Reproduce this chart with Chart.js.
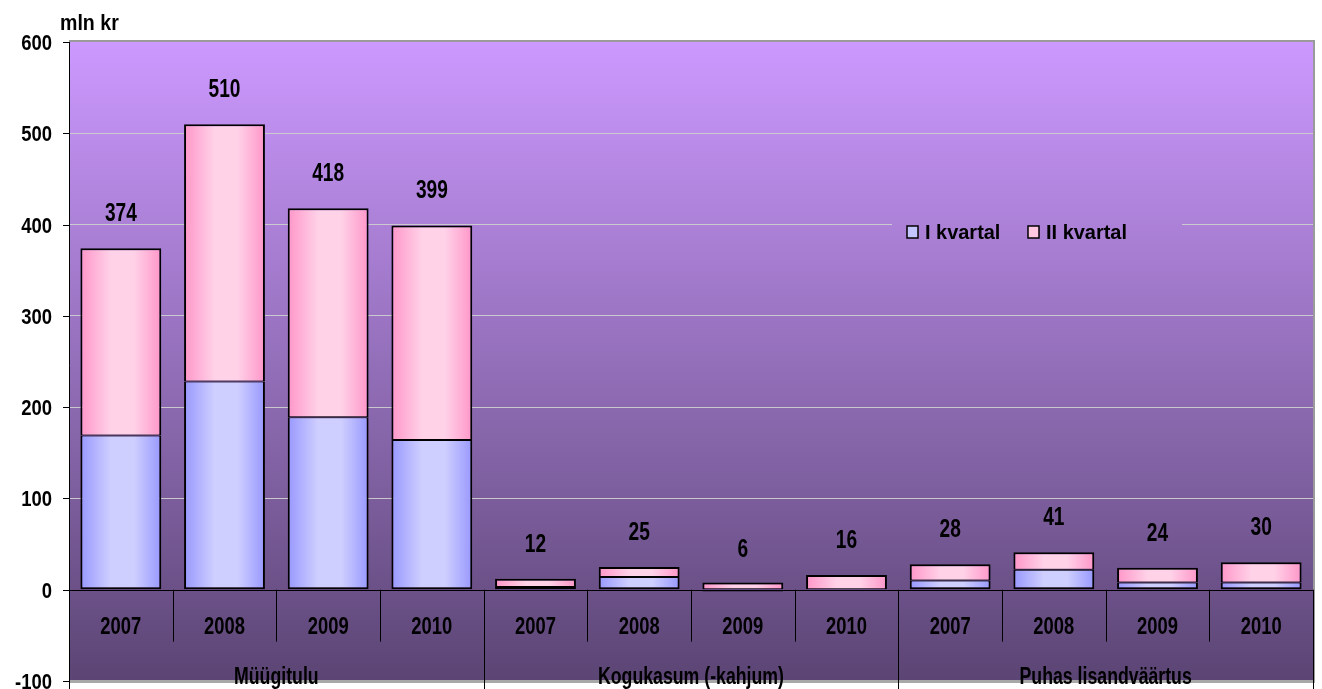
<!DOCTYPE html>
<html>
<head>
<meta charset="utf-8">
<script src="https://cdn.jsdelivr.net/npm/chart.js@4.4.1/dist/chart.umd.min.js"></script>
<style>
  html, body { margin: 0; padding: 0; background: #ffffff; }
  #wrap { width: 1322px; height: 689px; position: relative; }
</style>
</head>
<body>
<div id="wrap"><canvas id="c" width="1322" height="689"></canvas></div>
<script>
// ---- data ----
const categories = ['2007','2008','2009','2010','2007','2008','2009','2010','2007','2008','2009','2010'];
const groups = ['Müügitulu', 'Kogukasum (-kahjum)', 'Puhas lisandväärtus'];
const groupSize = 4;
const seriesNames = ['I kvartal', 'II kvartal'];
const quarter1 = [169, 228, 189, 164, 3, 14, -2, 0, 10, 22, 8, 8];
const quarter2 = [205, 282, 229, 235, 9, 11, 8, 16, 18, 19, 16, 22];
const totals = [374, 510, 418, 399, 12, 25, 6, 16, 28, 41, 24, 30];
const yTicks = [-100, 0, 100, 200, 300, 400, 500, 600];
const unitLabel = 'mln kr';

const FONT = '"Liberation Sans", Arial, sans-serif';
const BAR_PCT = 0.78;

function plotGradient(chart) {
  const a = chart.chartArea;
  const g = chart.ctx.createLinearGradient(0, a.top, 0, a.bottom);
  g.addColorStop(0, '#CC99FF');
  g.addColorStop(1, '#5B4574');
  return g;
}

function barFill(light, dark) {
  return (c) => {
    const ch = c.chart;
    const xs = ch.scales && ch.scales.x;
    if (c.dataIndex === undefined || !xs || !ch.chartArea) return light;
    const cx = xs.getPixelForValue(c.dataIndex);
    const w = ch.chartArea.width / categories.length * BAR_PCT;
    const g = ch.ctx.createLinearGradient(cx - w / 2, 0, cx + w / 2, 0);
    g.addColorStop(0, dark);
    g.addColorStop(0.38, light);
    g.addColorStop(0.66, light);
    g.addColorStop(1, dark);
    return g;
  };
}

function drawText(ctx, text, x, y, size, sx, align, baseline) {
  ctx.save();
  ctx.font = 'bold ' + size + 'px ' + FONT;
  ctx.fillStyle = '#000';
  ctx.textAlign = align || 'center';
  ctx.textBaseline = baseline || 'alphabetic';
  ctx.translate(x, y);
  ctx.scale(sx, 1);
  ctx.fillText(text, 0, 0);
  ctx.restore();
}

const backgroundPlugin = {
  id: 'bgPlot',
  beforeDraw(chart) {
    const ctx = chart.ctx, a = chart.chartArea;
    ctx.save();
    ctx.fillStyle = '#ffffff';
    ctx.fillRect(0, 0, chart.width, chart.height);
    ctx.fillStyle = plotGradient(chart);
    ctx.fillRect(a.left, a.top, a.right - a.left, a.bottom - a.top);
    ctx.fillStyle = '#9a9a9a';
    ctx.fillRect(a.left, a.top - 2, a.right - a.left + 2, 2);
    ctx.fillRect(a.right, a.top - 2, 2, a.bottom - a.top + 3);
    ctx.fillStyle = '#a8a8a8';
    ctx.fillRect(a.left, a.bottom - 1, a.right - a.left + 2, 3);
    ctx.restore();
  }
};

const overlayPlugin = {
  id: 'overlay',
  afterDraw(chart) {
    const ctx = chart.ctx, a = chart.chartArea;
    const xs = chart.scales.x, ys = chart.scales.y;
    const y0 = ys.getPixelForValue(0);
    const n = categories.length;
    const step = (a.right - a.left) / n;

    ctx.save();
    ctx.strokeStyle = '#000';
    ctx.lineWidth = 1;
    ctx.beginPath();
    ctx.moveTo(a.left, Math.round(y0) + 0.5);
    ctx.lineTo(a.right, Math.round(y0) + 0.5);
    ctx.stroke();
    ctx.beginPath();
    ctx.moveTo(Math.round(a.left) + 0.5, a.top);
    ctx.lineTo(Math.round(a.left) + 0.5, chart.height);
    ctx.stroke();
    yTicks.forEach(v => {
      const py = Math.round(ys.getPixelForValue(v)) + 0.5;
      ctx.beginPath();
      ctx.moveTo(a.left - 6, py);
      ctx.lineTo(a.left, py);
      ctx.stroke();
      drawText(ctx, String(v), a.left - 17, py + 7.5, 22, 0.84, 'right');
    });
    for (let i = 1; i <= n; i++) {
      const px = Math.round(a.left + i * step) + 0.5;
      const isGroup = (i % groupSize === 0);
      ctx.beginPath();
      ctx.moveTo(px, y0);
      ctx.lineTo(px, isGroup ? chart.height : y0 + 52);
      ctx.stroke();
    }
    ctx.restore();

    categories.forEach((c, i) => {
      drawText(ctx, c, xs.getPixelForValue(i), y0 + 44, 23, 0.8, 'center');
    });
    groups.forEach((g, gi) => {
      const cx = a.left + (gi * groupSize + groupSize / 2) * step;
      drawText(ctx, g, cx, a.bottom + 3, 23, 0.77, 'center');
    });
    totals.forEach((t, i) => {
      const py = ys.getPixelForValue(t) - 27;
      drawText(ctx, String(t), xs.getPixelForValue(i), py, 25.5, 0.75, 'center');
    });
    drawText(ctx, unitLabel, 60, 30, 22, 0.89, 'left');

    ctx.save();
    ctx.fillStyle = plotGradient(chart);
    ctx.fillRect(892, 214, 290, 36);
    const items = [
      { x: 907, text: seriesNames[0], fill: '#C4C4FF' },
      { x: 1028, text: seriesNames[1], fill: '#FFC8E0' }
    ];
    items.forEach(it => {
      ctx.fillStyle = it.fill;
      ctx.fillRect(it.x, 226, 11, 12);
      ctx.strokeStyle = '#000';
      ctx.lineWidth = 1.5;
      ctx.strokeRect(it.x, 226, 11, 12);
      drawText(ctx, it.text, it.x + 18, 238.5, 21, 0.95, 'left');
    });
    ctx.restore();
  }
};

const chart = new Chart(document.getElementById('c'), {
  type: 'bar',
  data: {
    labels: categories,
    datasets: [
      {
        label: seriesNames[0],
        data: quarter1,
        backgroundColor: barFill('#CFCFFF', '#9898FF'),
        borderColor: '#000',
        borderWidth: { top: 1, bottom: 2, left: 2, right: 2 },
        borderSkipped: false,
        stack: 's'
      },
      {
        label: seriesNames[1],
        data: quarter2,
        backgroundColor: barFill('#FFD2E8', '#FF96C8'),
        borderColor: '#000',
        borderWidth: { top: 2, bottom: 1, left: 2, right: 2 },
        borderSkipped: false,
        stack: 's'
      }
    ]
  },
  options: {
    responsive: false,
    animation: false,
    layout: { padding: { left: 69, right: 9, top: 42, bottom: 8 } },
    datasets: { bar: { barPercentage: BAR_PCT, categoryPercentage: 1.0 } },
    plugins: { legend: { display: false }, tooltip: { enabled: false } },
    scales: {
      x: {
        stacked: true,
        grid: { display: false },
        border: { display: false },
        ticks: { display: false },
        afterFit: (s) => { s.height = 0; }
      },
      y: {
        stacked: true,
        min: -100,
        max: 600,
        afterBuildTicks: (s) => { s.ticks = yTicks.map(v => ({ value: v })); },
        grid: {
          drawTicks: false,
          lineWidth: 1,
          color: (c) => (c.tick && (c.tick.value === 0 || c.tick.value === 600 || c.tick.value === -100)) ? 'rgba(0,0,0,0)' : 'rgba(205,205,205,0.95)'
        },
        border: { display: false },
        ticks: { display: false },
        afterFit: (s) => { s.width = 0; }
      }
    }
  },
  plugins: [backgroundPlugin, overlayPlugin]
});
</script>
</body>
</html>
